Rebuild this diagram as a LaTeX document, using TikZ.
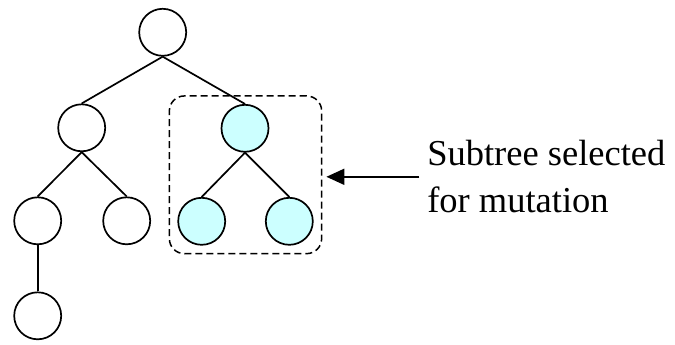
\documentclass[tikz,border=0pt]{standalone}
\usepackage{fontspec}
\setmainfont{Liberation Serif}
\usepackage{xcolor}
\usepackage{tikz}
\usetikzlibrary{positioning,fit,arrows.meta}

\definecolor{pickcyan}{HTML}{CCFFFF}

\begin{document}
\begin{tikzpicture}[x=1pt, y=-1pt, line width=1.7pt]

\tikzstyle{every node}=[font=\fontsize{36.5}{47}\selectfont]
\tikzstyle{vertex}=[circle, draw, minimum size=47pt, inner sep=0pt, on grid]
\tikzstyle{picked}=[vertex, fill=pickcyan]

\useasboundingbox (0,0) rectangle (675,345);

% nodes %
\node[vertex] (root) at (162.7,32.3) {};
\node[vertex, below left = 95.5pt and 81pt of root] (l) {};
\node[picked, below right = 96pt and 82.3pt of root] (r) {};
\node[vertex, below left = 93pt and 44pt of l] (ll) {};
\node[vertex, below right = 93pt and 45pt of l] (lr) {};
\node[picked, below left = 93pt and 43.3pt of r] (rl) {};
\node[picked, below right = 93pt and 44.3pt of r] (rr) {};
\node[vertex, below = 95pt of ll] (lll) {};

% subtree box %
\node[draw, dashed, dash pattern=on 7pt off 4pt, line width=1.5pt, rounded corners=15pt,
      fit=(r) (rl) (rr), inner sep=8pt] (box) {};

\node[right = 104pt of box, yshift=-2pt, inner sep=0pt, align=left] (label) {Subtree selected\\for mutation};

% edges %
\draw (root.south) -- (l.north);
\draw (root.south) -- (r.north);
\draw (l.south) -- (ll.north);
\draw (l.south) -- (lr.north);
\draw (r.south) -- (rl.north);
\draw (r.south) -- (rr.north);
\draw (ll.south) -- (lll.north);

\draw[-{Triangle[length=18pt,width=16pt]}, line width=1.8pt, shorten <=7pt, shorten >=4pt]
  (label.west) -- (label.west -| box.east);

\end{tikzpicture}
\end{document}
